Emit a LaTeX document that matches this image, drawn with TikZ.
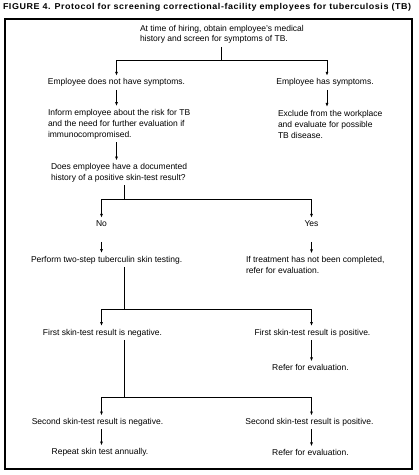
\documentclass[tikz,border=0pt]{standalone}
\usepackage{fontspec}
\setmainfont{Liberation Sans}
\usetikzlibrary{arrows.meta}
\begin{document}
\begin{tikzpicture}[x=1bp,y=-1bp,
  every node/.style={inner sep=3bp, outer sep=0pt, font=\fontsize{8.5bp}{11bp}\selectfont},
  txt/.style={align=left, anchor=west},
  arr/.style={-{Latex[length=4bp,width=3bp]}, line width=1bp},
  ln/.style={line width=1bp},
  frame/.style={line width=2bp}]
\useasboundingbox (0,0) rectangle (418,475);
\node[anchor=west, inner sep=0pt, font=\bfseries\fontsize{8.5bp}{10bp}\selectfont] (title) at (3,7)
  {\resizebox{408bp}{\height}{\addfontfeature{LetterSpace=6}FIGURE 4. Protocol for screening correctional-facility employees for tuberculosis (TB)}};
\draw[frame] (5,19) rectangle (412,469);

\node[txt] (top) at (137,34.8) {At time of hiring, obtain employee's medical\\[-1bp]history and screen for symptoms of TB.};
\node (nosym) at (116.5,82.8) {Employee does not have symptoms.};
\node (sym) at (325,82.8) {Employee has symptoms.};
\node[txt] (inform) at (45,124.1) {Inform employee about the risk for TB\\and the need for further evaluation if\\immunocompromised.};
\node[txt] (exclude) at (275,124.1) {Exclude from the workplace\\and evaluate for possible\\TB disease.};
\node[txt] (doc) at (48,173) {Does employee have a documented\\history of a positive skin-test result?};
\node (no) at (101.5,223.8) {No};
\node (yes) at (311.5,223.8) {Yes};
\node[txt] (perform) at (28,260) {Perform two-step tuberculin skin testing.};
\node[txt] (iftreat) at (243,265) {If treatment has not been completed,\\refer for evaluation.};
\node (fneg) at (102.5,333) {First skin-test result is negative.};
\node (fpos) at (312.5,333) {First skin-test result is positive.};
\node (refer1) at (310.5,367.5) {Refer for evaluation.};
\node (sneg) at (97.5,422.5) {Second skin-test result is negative.};
\node (spos) at (309.5,422.5) {Second skin-test result is positive.};
\node (repeat) at (100,452.5) {Repeat skin test annually.};
\node (refer2) at (310.5,452.5) {Refer for evaluation.};

\coordinate (j1) at (221,61);
\coordinate (j2) at (124,200);
\coordinate (j3) at (124,309);
\coordinate (j4) at (124,397);
\coordinate (bl) at (101.5,0);
\coordinate (br) at (311.5,0);

\draw[ln] (top.south -| j1) -- (j1);
\draw[arr] (j1) -| (nosym.north);
\draw[arr] (j1) -| (sym.north -| 327,0);
\draw[arr] (nosym.south) -- (inform.north -| nosym.south);
\draw[arr] (sym.south -| 327,0) -- (exclude.north -| 327,0);
\draw[arr] (inform.south -| nosym.south) -- (doc.north -| nosym.south);
\draw[ln] (doc.south -| j2) -- (j2);
\draw[arr] (j2) -| (no.north);
\draw[arr] (j2) -| (yes.north);
\draw[arr] ([yshift=-12bp]no.south) -- (perform.north -| no.south);
\draw[arr] ([yshift=-12bp]yes.south) -- (iftreat.north -| yes.south);
\draw[ln] (perform.south -| j3) -- (j3);
\draw[arr] (j3) -| (fneg.north -| bl);
\draw[arr] (j3) -| (fpos.north -| br);
\draw[arr] (fpos.south -| br) -- (refer1.north -| br);
\draw[ln] (fneg.south -| j4) -- (j4);
\draw[arr] (j4) -| (sneg.north -| bl);
\draw[arr] (j4) -| (spos.north -| br);
\draw[arr] (sneg.south -| bl) -- (repeat.north -| bl);
\draw[arr] (spos.south -| br) -- (refer2.north -| br);
\end{tikzpicture}
\end{document}
